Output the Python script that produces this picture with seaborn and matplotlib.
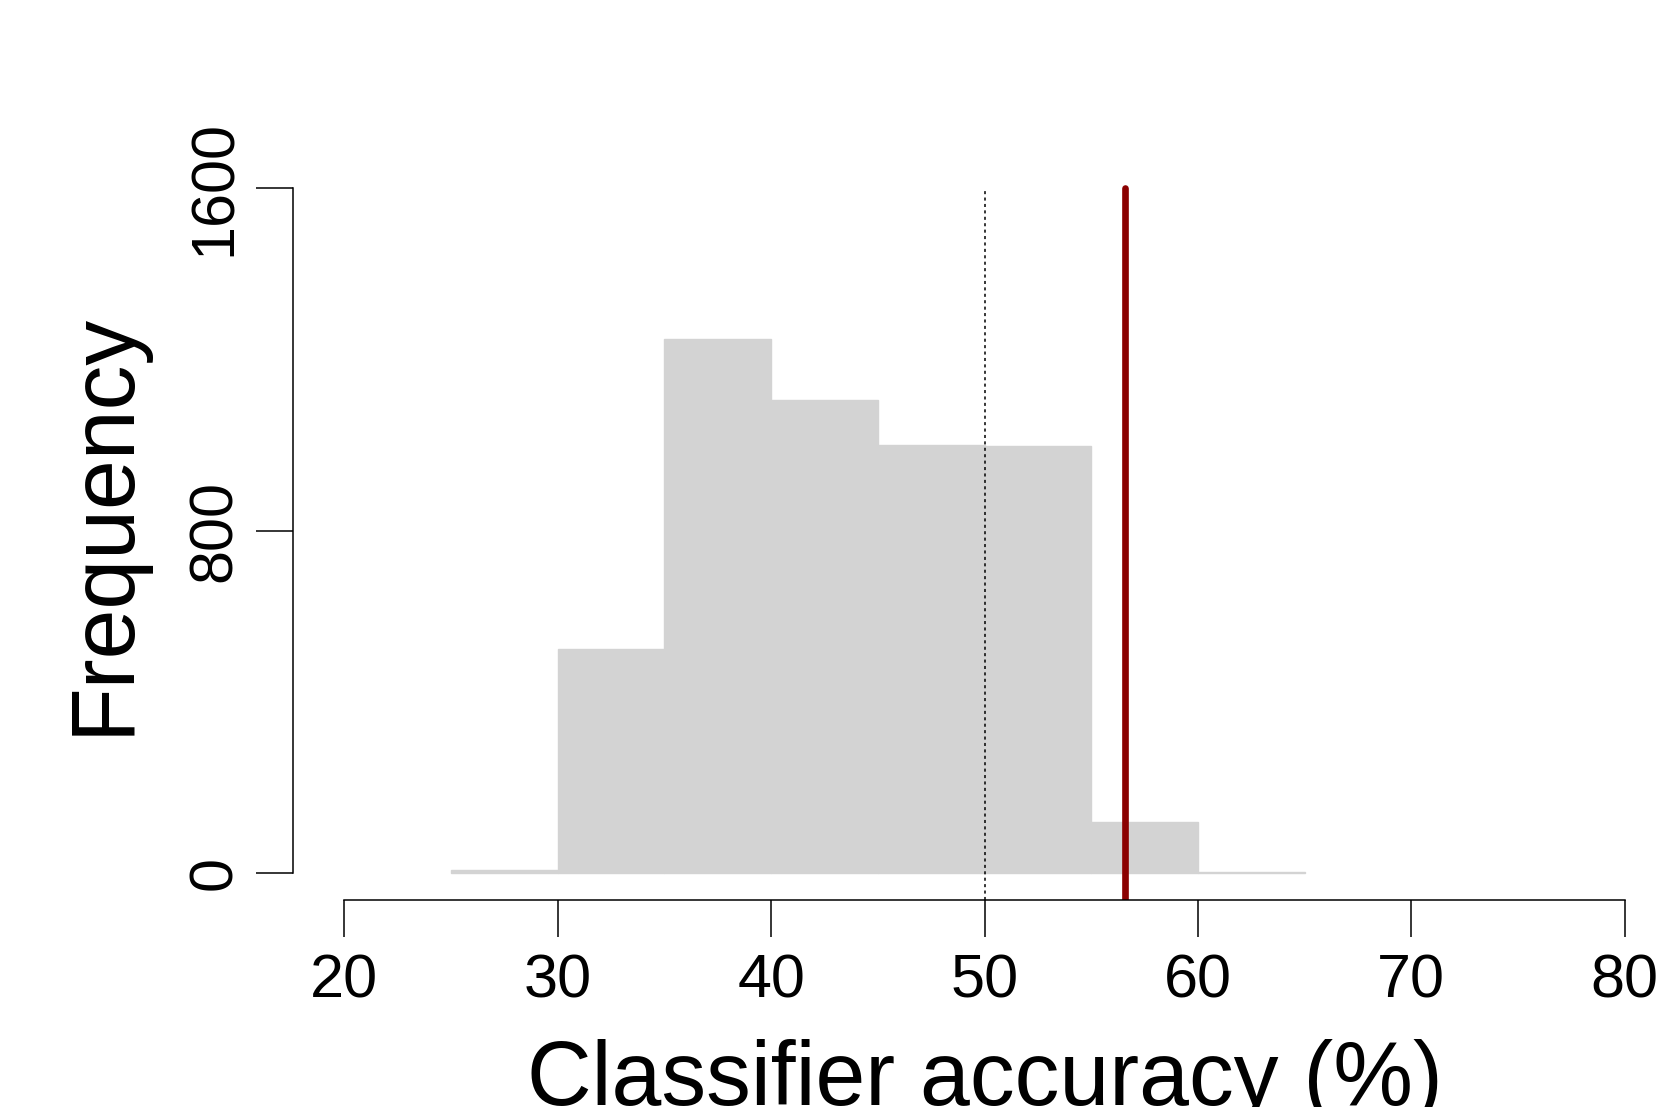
import numpy as np
import matplotlib
matplotlib.use("Agg")
import matplotlib.pyplot as plt
import seaborn as sns

# histogram of permuted classifier accuracies (bin counts)
bin_edges = [25, 30, 35, 40, 45, 50, 55, 60, 65]
bin_counts = [6, 523, 1247, 1105, 1000, 998, 119, 2]
chance_level = 50
observed_acc = 56.56

x_ticks = [20, 30, 40, 50, 60, 70, 80]
y_ticks = [0, 800, 1600]

sns.set_style("ticks")
plt.rcParams["font.family"] = ["Liberation Sans", "DejaVu Sans"]
plt.rcParams["text.color"] = "black"

fig = plt.figure(figsize=(16.6, 11.07), dpi=100)
W, H = 1660, 1107
ax = fig.add_axes([293 / W, 1 - 900.4 / H, 1383 / W, (900.4 - 160.6) / H])

centers = [(a + b) / 2 for a, b in zip(bin_edges[:-1], bin_edges[1:])]
sns.histplot(x=centers, weights=bin_counts, bins=bin_edges, color="lightgrey",
             edgecolor="lightgrey", linewidth=1, alpha=1, ax=ax)

ax.plot([chance_level, chance_level], [-64, 1600], color="black", lw=1.1,
        linestyle=(0, (2, 2.2)))
ax.plot([observed_acc, observed_acc], [-64, 1600], color="darkred", lw=4.8,
        solid_capstyle="round")

ax.set_xlim(17.6, 82.4)
ax.set_ylim(-64, 1664)
ax.set_xticks(x_ticks)
ax.set_yticks(y_ticks)
ax.set_xticklabels([str(t) for t in x_ticks])
ax.set_yticklabels([str(t) for t in y_ticks])

for s in ["top", "right"]:
    ax.spines[s].set_visible(False)
ax.spines["left"].set_bounds(0, 1600)
ax.spines["bottom"].set_bounds(20, 80)
for s in ["left", "bottom"]:
    ax.spines[s].set_linewidth(1.1)
    ax.spines[s].set_color("black")

ax.tick_params(axis="both", direction="out", length=26.5, width=1.1,
               color="black", labelsize=44, labelcolor="black",
               bottom=True, left=True)
ax.tick_params(axis="x", pad=12)
ax.tick_params(axis="y", pad=9, labelrotation=90)
for lab in ax.get_yticklabels():
    lab.set_va("center")

ax.set_xlabel("")
ax.set_ylabel("")
fig.text(985 / W, 1 - 1105 / H, "Classifier accuracy (%)", fontsize=64.5,
         ha="center", va="baseline", color="black")
fig.text(62 / W, 1 - 523 / H, "Frequency", fontsize=64.5, rotation=90,
         ha="left", va="center", color="black")

fig.savefig("out.png", dpi=100, facecolor="white")
